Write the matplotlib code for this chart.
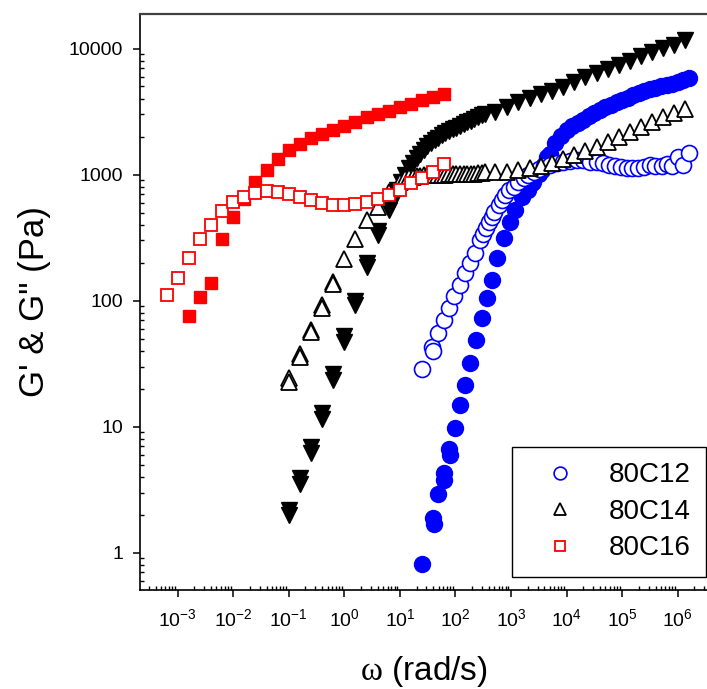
import numpy as np
import matplotlib
matplotlib.use("Agg")
import matplotlib.pyplot as plt
from matplotlib.ticker import LogLocator, FixedLocator, FuncFormatter, NullFormatter

plt.rcParams['font.family'] = ['Liberation Sans', 'DejaVu Sans']
plt.rcParams['mathtext.fontset'] = 'custom'
plt.rcParams['mathtext.rm'] = 'Liberation Serif'
plt.rcParams['mathtext.sf'] = 'Liberation Sans'

# ---- 80C12 (blue) ----
w12_gpp = [25.1, 38.0, 40.0, 48.0, 61.0, 78.0, 95.0, 123, 151, 186, 229, 282, 316, 355,
           398, 457, 501, 603, 692, 794, 933, 1110, 1350, 1680, 2000, 2540, 3160, 3980,
           5010, 6610, 8710, 1.15e4, 1.51e4, 2.0e4, 2.63e4, 3.47e4, 4.57e4, 5.89e4,
           7.41e4, 9.55e4, 1.2e5, 1.51e5, 1.95e5, 2.51e5, 3.16e5, 3.98e5, 5.13e5,
           6.31e5, 7.76e5, 1.02e6, 1.26e6, 1.62e6]
g12_gpp = [28.5, 43, 40, 55, 70, 87, 108, 133, 165, 198, 238, 303, 340, 376,
           420, 464, 505, 575, 630, 690, 750, 803, 870, 935, 990, 1056, 1110, 1160,
           1194, 1240, 1268, 1290, 1309, 1300, 1268, 1250, 1231, 1200,
           1178, 1150, 1137, 1128, 1122, 1150, 1190, 1160, 1165,
           1220, 1170, 1390, 1195, 1479]

w12_gp = [25.1, 38.9, 41.0, 47.9, 61.0, 63.0, 77.6, 80.0, 100, 123, 151, 186, 234, 302,
          372, 457, 562, 741, 977, 1200, 1585, 2000, 2370, 2510, 3160, 3590, 3980, 4420,
          5010, 6310, 7940, 1.0e4, 1.26e4, 1.58e4, 2.0e4, 2.51e4, 3.16e4, 3.98e4,
          5.01e4, 6.31e4, 7.94e4, 1.0e5, 1.26e5, 1.58e5, 2.0e5, 2.51e5, 3.16e5,
          3.98e5, 5.01e5, 6.31e5, 7.94e5, 1.0e6, 1.26e6, 1.62e6]
g12_gp = [0.82, 1.9, 1.7, 2.9, 4.3, 3.8, 6.7, 6.0, 9.7, 14.9, 21.4, 31.8, 48.8, 72.5,
          104, 146, 217, 313, 424, 525, 669, 760, 855, 880, 1010, 1090, 1200, 1390,
          1450, 1780, 2020, 2265, 2420, 2570, 2720, 2900, 3070, 3250,
          3420, 3580, 3740, 3900, 4080, 4250, 4420, 4600, 4760,
          4880, 5000, 5130, 5280, 5430, 5600, 5820]

# ---- 80C14 (black) ----
w14_gpp = [0.1, 0.1, 0.158, 0.158, 0.251, 0.251, 0.398, 0.398, 0.631, 0.631, 1.0, 1.58,
           2.51, 3.98, 6.31, 10.0, 12.6, 14.8, 17.0, 20.0, 23.0, 27.0, 31.0, 36.0, 42.0,
           49.0, 57.0, 66.0, 77.0, 89.0, 104, 120, 140, 162, 190, 220, 255, 295,
           347, 525, 851, 1349, 2239, 3467, 5495, 8710, 1.38e4, 2.19e4, 3.55e4,
           5.5e4, 8.71e4, 1.38e5, 2.19e5, 3.47e5, 5.5e5, 8.71e5, 1.38e6]
g14_gpp = [24.2, 22.5, 37.8, 35.5, 58.5, 56.0, 92.4, 88.0, 141.5, 135, 214, 309,
           437, 556, 730, 880, 940, 955, 965, 975, 980, 985, 990, 990, 995,
           1000, 1000, 1000, 1005, 1005, 1010, 1010, 1010, 1015, 1020, 1020, 1025, 1030,
           1056, 1056, 1056, 1089, 1138, 1178, 1230, 1324, 1432, 1542, 1667,
           1828, 1995, 2193, 2377, 2606, 2858, 3069, 3319]

w14_gp = [0.1, 0.1, 0.158, 0.158, 0.251, 0.251, 0.398, 0.398, 0.631, 0.631, 1.0, 1.0,
          1.58, 1.58, 2.51, 2.51, 3.98, 3.98, 6.31, 7.5, 9.0, 10.5, 12.6, 14.8, 17.0,
          20.0, 23.0, 27.0, 31.0, 36.0, 42.0, 49.0, 57.0, 66.0, 77.0, 89.0, 104, 120,
          140, 162, 190, 220, 255, 295, 347, 525, 851, 1349, 2239, 3467, 5495, 8710,
          1.38e4, 2.19e4, 3.55e4, 5.5e4, 8.71e4, 1.38e5, 2.19e5, 3.47e5, 5.5e5,
          8.71e5, 1.38e6]
g14_gp = [2.2, 2.0, 3.9, 3.5, 6.9, 6.2, 12.8, 11.5, 26.0, 23.5, 52, 47,
          100, 92, 200, 185, 360, 330, 525, 620, 760, 880, 1000, 1120, 1230,
          1350, 1470, 1570, 1680, 1780, 1880, 1960, 2050, 2130, 2210, 2280, 2360, 2440,
          2520, 2600, 2680, 2760, 2850, 2950, 3020, 3160, 3467, 3758, 4036, 4345, 4613,
          4989, 5470, 5929, 6383, 6855, 7430, 8035, 8750, 9462, 10070, 10690, 11720]

# ---- 80C16 (red) ----
w16_gpp = [6.3e-4, 1.0e-3, 1.58e-3, 2.51e-3, 3.98e-3, 6.31e-3, 0.01, 0.0158, 0.0251,
           0.0398, 0.0631, 0.1, 0.158, 0.251, 0.398, 0.631, 1.0, 1.58, 2.51, 3.98,
           6.31, 10.0, 15.8, 25.1, 39.8, 63.1]
g16_gpp = [111, 151, 219, 307, 398, 518, 611, 669, 720, 738, 732, 703, 669, 630, 600,
           575, 575, 580, 611, 638, 690, 756, 852, 946, 1056, 1208]

w16_gp = [1.58e-3, 2.51e-3, 3.98e-3, 6.31e-3, 0.01, 0.0158, 0.0251, 0.0398, 0.0631,
          0.1, 0.158, 0.251, 0.398, 0.631, 1.0, 1.58, 2.51, 3.98, 6.31, 10.0, 15.8,
          25.1, 39.8, 63.1]
g16_gp = [76, 106, 138, 311, 464, 640, 870, 1089, 1331, 1560, 1761, 1944, 2103, 2263,
          2448, 2634, 2852, 3013, 3204, 3445, 3639, 3917, 4112, 4345]

xticks = [1e-3, 1e-2, 1e-1, 1e0, 1e1, 1e2, 1e3, 1e4, 1e5, 1e6]
yticks = [1, 10, 100, 1000, 10000]

fig = plt.figure(figsize=(7.07, 6.89), dpi=100)
ax = fig.add_axes([140 / 707, 1 - 590 / 689, 1 - 140 / 707, (590 - 14) / 689])
ax.set_xscale('log')
ax.set_yscale('log')

blue, red = '#0000ff', '#ff0000'
ax.plot(w12_gp, g12_gp, 'o', ms=11.5, color=blue, mec=blue)
ax.plot(w12_gpp, g12_gpp, 'o', ms=11.5, mfc='white', mec=blue, mew=1.2, label='80C12')
ax.plot(w14_gp, g14_gp, 'v', ms=11, color='black')
ax.plot(w14_gpp, g14_gpp, '^', ms=11, mfc='white', mec='black', mew=1.3, label='80C14')
ax.plot(w16_gp, g16_gp, 's', ms=9.2, color=red)
ax.plot(w16_gpp, g16_gpp, 's', ms=9.2, mfc='white', mec=red, mew=1.3, label='80C16')

ax.set_xlim(2.1e-4, 3.37e6)
ax.set_ylim(0.506, 18800)

ax.xaxis.set_major_locator(FixedLocator(xticks))
ax.xaxis.set_minor_locator(LogLocator(base=10, subs=np.arange(2, 10), numticks=30))
ax.xaxis.set_major_formatter(FuncFormatter(
    lambda v, p: r'$\mathsf{10^{%d}}$' % int(round(np.log10(v)))))
ax.xaxis.set_minor_formatter(NullFormatter())
ax.yaxis.set_major_locator(FixedLocator(yticks))
ax.yaxis.set_minor_locator(LogLocator(base=10, subs=np.arange(2, 10), numticks=30))
ax.yaxis.set_major_formatter(FuncFormatter(lambda v, p: '%d' % v))
ax.yaxis.set_minor_formatter(NullFormatter())

ax.tick_params(which='major', direction='out', length=5, width=1.1, labelsize=14)
ax.tick_params(axis='x', which='major', pad=8)
ax.tick_params(axis='y', which='major', pad=7)
ax.tick_params(which='minor', direction='in', length=3.2, width=1.0)

for s in ['left', 'bottom']:
    ax.spines[s].set_linewidth(1.2)
ax.spines['right'].set_visible(False)
ax.spines['top'].set_color('#404040')
ax.spines['top'].set_linewidth(1.6)

ax.set_ylabel('G\' & G" (Pa)', fontsize=25, labelpad=13)
ax.set_xlabel(r'$\mathrm{\omega}$ (rad/s)', fontsize=24, labelpad=17)

leg = ax.legend(loc='upper left', bbox_to_anchor=(511.7 / 707, 1 - 447 / 689),
                bbox_transform=fig.transFigure, fontsize=20, frameon=True,
                fancybox=False, edgecolor='black', borderpad=0.55, borderaxespad=0,
                handlelength=2.4, handletextpad=0.55, labelspacing=0.38, markerscale=0.8)
leg.get_frame().set_linewidth(1.0)
leg.get_frame().set_alpha(1)

fig.savefig('out.png', dpi=100)
